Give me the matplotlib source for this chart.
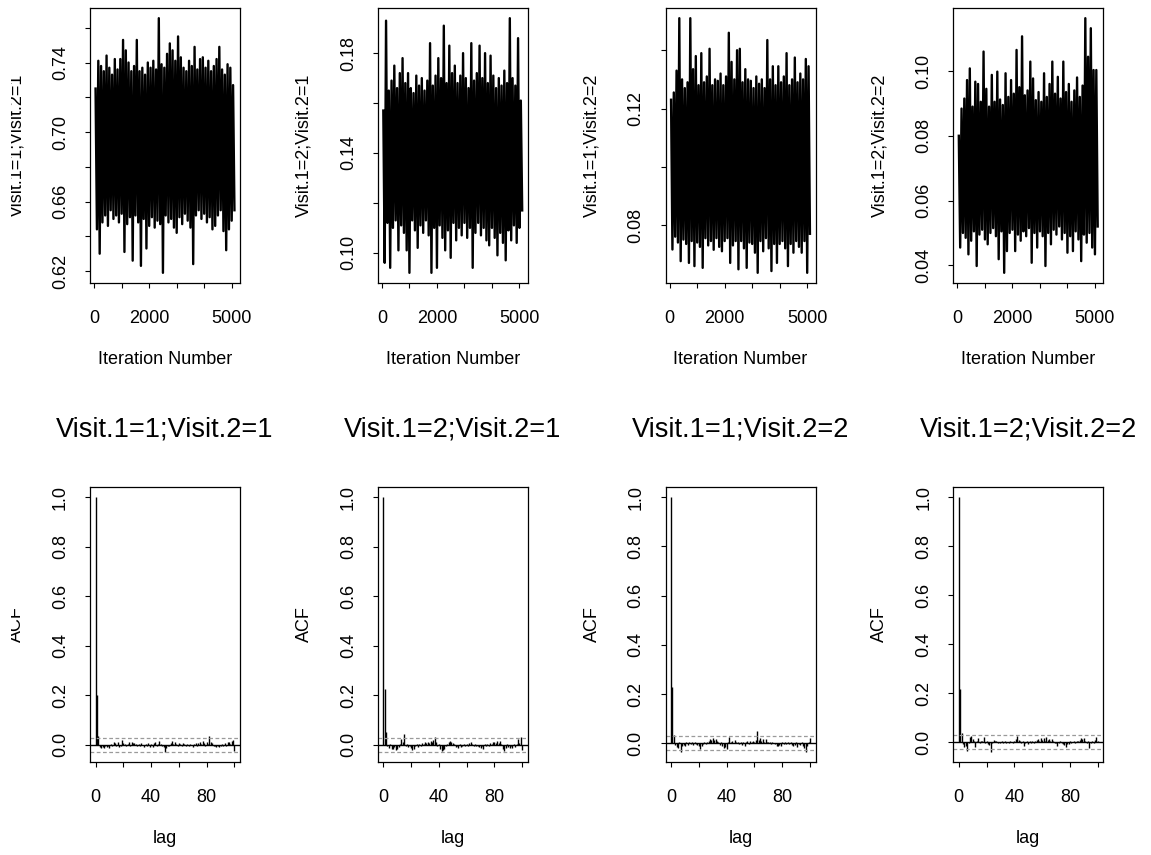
import matplotlib
matplotlib.use('Agg')
import matplotlib.pyplot as plt
from matplotlib.patches import Rectangle

plt.rcParams['font.family'] = ['Liberation Sans', 'DejaVu Sans']

# Parameter names (one column each)
names = ['Visit.1=1;Visit.2=1', 'Visit.1=2;Visit.2=1',
         'Visit.1=1;Visit.2=2', 'Visit.1=2;Visit.2=2']

# Trace plots: highest / lowest draw read in each 100-iteration window
iter_hi = list(range(50, 5051, 100))
iter_lo = list(range(100, 5101, 100))

hi_1 = [0.725, 0.741, 0.738, 0.735, 0.744, 0.737, 0.733, 0.742, 0.736, 0.742,
        0.753, 0.747, 0.740, 0.735, 0.738, 0.753, 0.735, 0.737, 0.733, 0.740,
        0.737, 0.741, 0.736, 0.7655, 0.739, 0.737, 0.745, 0.751, 0.747, 0.741,
        0.755, 0.743, 0.737, 0.735, 0.741, 0.738, 0.749, 0.736, 0.742, 0.743,
        0.737, 0.741, 0.735, 0.738, 0.742, 0.749, 0.736, 0.733, 0.739, 0.737,
        0.727]
lo_1 = [0.644, 0.630, 0.648, 0.652, 0.646, 0.655, 0.650, 0.652, 0.648, 0.653,
        0.631, 0.647, 0.651, 0.626, 0.652, 0.648, 0.623, 0.650, 0.633, 0.646,
        0.651, 0.645, 0.649, 0.647, 0.619, 0.652, 0.648, 0.650, 0.645, 0.642,
        0.651, 0.647, 0.653, 0.649, 0.645, 0.624, 0.652, 0.655, 0.650, 0.653,
        0.648, 0.651, 0.644, 0.646, 0.652, 0.655, 0.643, 0.632, 0.644, 0.649,
        0.655]

hi_2 = [0.157, 0.193, 0.165, 0.169, 0.175, 0.166, 0.172, 0.178, 0.168, 0.172,
        0.166, 0.164, 0.171, 0.167, 0.170, 0.165, 0.169, 0.184, 0.167, 0.171,
        0.178, 0.170, 0.191, 0.168, 0.183, 0.172, 0.175, 0.168, 0.171, 0.180,
        0.170, 0.166, 0.184, 0.169, 0.172, 0.183, 0.170, 0.180, 0.168, 0.179,
        0.171, 0.166, 0.170, 0.167, 0.173, 0.168, 0.194, 0.170, 0.167, 0.186,
        0.161]
lo_2 = [0.096, 0.112, 0.094, 0.110, 0.113, 0.101, 0.111, 0.108, 0.101, 0.092,
        0.113, 0.109, 0.102, 0.111, 0.108, 0.113, 0.107, 0.092, 0.110, 0.094,
        0.111, 0.106, 0.101, 0.109, 0.098, 0.112, 0.105, 0.110, 0.107, 0.112,
        0.106, 0.110, 0.094, 0.108, 0.112, 0.107, 0.110, 0.105, 0.103, 0.110,
        0.106, 0.099, 0.108, 0.104, 0.097, 0.109, 0.105, 0.111, 0.104, 0.110,
        0.117]

hi_3 = [0.123, 0.1255, 0.133, 0.151, 0.130, 0.127, 0.129, 0.151, 0.1335, 0.138,
        0.128, 0.139, 0.129, 0.131, 0.1405, 0.128, 0.130, 0.1295, 0.132, 0.128,
        0.131, 0.146, 0.136, 0.130, 0.140, 0.1405, 0.129, 0.1335, 0.130, 0.1295,
        0.127, 0.131, 0.1285, 0.130, 0.127, 0.1435, 0.130, 0.1345, 0.128, 0.1345,
        0.129, 0.131, 0.139, 0.128, 0.130, 0.1375, 0.129, 0.132, 0.130, 0.137,
        0.1345]
lo_3 = [0.0716, 0.076, 0.074, 0.0676, 0.075, 0.0735, 0.067, 0.0745, 0.0659, 0.074,
        0.0725, 0.0653, 0.0755, 0.073, 0.0745, 0.0715, 0.0755, 0.0725, 0.071, 0.0745,
        0.0755, 0.067, 0.073, 0.0745, 0.0648, 0.0745, 0.072, 0.0653, 0.074, 0.0735,
        0.0705, 0.0636, 0.0745, 0.071, 0.0755, 0.072, 0.0642, 0.0735, 0.067, 0.0735,
        0.0745, 0.072, 0.0659, 0.0735, 0.0705, 0.0745, 0.0725, 0.0705, 0.0745, 0.0636,
        0.077]

hi_4 = [0.080, 0.0884, 0.0915, 0.0972, 0.1008, 0.0890, 0.0967, 0.096, 0.0905, 0.106,
        0.0945, 0.0890, 0.0988, 0.0905, 0.0998, 0.0912, 0.0895, 0.0993, 0.0920, 0.0972,
        0.0930, 0.1065, 0.0950, 0.1107, 0.0925, 0.0940, 0.1029, 0.0977, 0.0910, 0.0935,
        0.0905, 0.0993, 0.0920, 0.0960, 0.1029, 0.0930, 0.0982, 0.0915, 0.1029, 0.0935,
        0.0960, 0.0905, 0.0940, 0.0980, 0.0920, 0.0955, 0.1163, 0.1044, 0.1132, 0.1003,
        0.1003]
lo_4 = [0.0455, 0.050, 0.0485, 0.0434, 0.0476, 0.0505, 0.0398, 0.0495, 0.0510, 0.048,
        0.0465, 0.0500, 0.0515, 0.0490, 0.0419, 0.0505, 0.0377, 0.0444, 0.0500, 0.0510,
        0.0444, 0.0495, 0.0476, 0.0505, 0.0490, 0.0515, 0.0408, 0.0500, 0.0455, 0.0505,
        0.0490, 0.0398, 0.0500, 0.0465, 0.0510, 0.0495, 0.0520, 0.0480, 0.0500, 0.0439,
        0.0490, 0.0444, 0.0505, 0.0480, 0.0413, 0.0495, 0.0470, 0.0500, 0.0455, 0.0434,
        0.0520]

trace_hi = [hi_1, hi_2, hi_3, hi_4]
trace_lo = [lo_1, lo_2, lo_3, lo_4]

trace_xticks = [0, 1000, 2000, 3000, 4000, 5000]
trace_xlabels = ['0', '', '2000', '', '', '5000']
trace_yticks = [[0.62, 0.64, 0.66, 0.68, 0.70, 0.72, 0.74, 0.76],
                [0.10, 0.12, 0.14, 0.16, 0.18],
                [0.08, 0.10, 0.12, 0.14],
                [0.04, 0.06, 0.08, 0.10]]
trace_ylabels = [['0.62', '', '0.66', '', '0.70', '', '0.74', ''],
                 ['0.10', '', '0.14', '', '0.18'],
                 ['0.08', '', '0.12', ''],
                 ['0.04', '0.06', '0.08', '0.10']]

# Autocorrelation, lags 0..100
lags = list(range(101))
acf_1 = [1.0,
         0.20, 0.035, -0.01, -0.012, -0.008, -0.012, -0.006, -0.01, -0.005, -0.013,
         0.005, -0.004, 0.012, 0.006, -0.006, 0.01, -0.008, -0.004, 0.018, 0.008,
         0.003, -0.006, 0.004, 0.012, -0.004, 0.01, 0.008, 0.007, 0.002, -0.005,
         0.003, -0.004, 0.006, -0.002, -0.008, 0.004, -0.006, 0.006, -0.01, 0.003,
         -0.008, 0.008, 0.012, -0.004, 0.005, 0.016, 0.003, -0.006, -0.01, -0.028,
         -0.012, -0.006, -0.004, 0.008, 0.014, 0.002, 0.012, 0.004, -0.004, 0.008,
         0.002, -0.006, 0.006, 0.004, -0.003, 0.002, -0.005, 0.004, -0.002, -0.008,
         0.004, 0.006, -0.003, 0.008, 0.012, 0.004, 0.016, 0.006, -0.004, 0.01,
         0.004, 0.035, 0.012, 0.006, -0.006, -0.004, -0.01, -0.006, -0.01, -0.003,
         0.004, -0.006, 0.006, -0.004, 0.01, 0.012, 0.004, 0.016, 0.018, -0.025]
acf_2 = [1.0,
         0.225, 0.05, -0.006, -0.012, 0.004, -0.015, -0.018, -0.01, -0.02, -0.016,
         -0.008, 0.004, 0.025, 0.012, 0.045, -0.006, 0.004, -0.01, -0.004, -0.012,
         -0.02, -0.018, -0.006, 0.004, -0.008, 0.003, -0.004, 0.006, 0.002, 0.01,
         0.008, 0.012, 0.006, 0.014, 0.01, 0.02, 0.032, 0.012, -0.004, 0.003,
         -0.018, -0.025, -0.022, -0.015, -0.006, 0.004, 0.012, 0.016, 0.01, 0.008,
         0.004, -0.01, -0.006, -0.014, 0.003, -0.008, -0.004, 0.002, -0.003, 0.004,
         -0.006, 0.006, 0.01, 0.004, -0.004, 0.002, -0.006, -0.003, -0.01, -0.012,
         -0.006, -0.015, 0.004, -0.006, 0.003, -0.004, 0.006, 0.002, 0.01, 0.012,
         0.006, 0.014, 0.008, 0.016, 0.004, -0.018, -0.025, -0.012, 0.003, -0.01,
         -0.014, -0.006, -0.012, 0.004, -0.008, 0.003, 0.025, 0.006, 0.032, -0.02]
acf_3 = [1.0,
         0.23, 0.034, -0.008, -0.014, -0.02, 0.004, -0.035, -0.012, -0.006, -0.01,
         0.004, -0.008, 0.006, -0.004, 0.003, -0.006, 0.004, -0.003, -0.008, -0.01,
         -0.025, -0.012, -0.004, 0.003, -0.002, 0.004, 0.008, 0.016, 0.012, 0.02,
         0.014, 0.018, 0.008, 0.004, -0.006, 0.003, -0.012, -0.02, -0.016, -0.022,
         0.004, 0.025, 0.006, 0.01, 0.002, 0.015, 0.006, 0.004, -0.003, 0.006,
         -0.008, 0.003, -0.012, 0.004, 0.008, -0.004, 0.01, 0.006, 0.01, 0.006,
         0.012, 0.05, 0.012, 0.02, 0.008, 0.016, 0.006, 0.018, 0.004, 0.003,
         0.005, -0.002, 0.004, 0.002, -0.004, -0.01, -0.012, -0.006, -0.01, 0.003,
         -0.004, 0.004, -0.002, 0.006, -0.004, 0.003, -0.006, -0.012, -0.008, 0.004,
         -0.015, -0.004, -0.008, 0.003, -0.01, -0.02, -0.035, -0.012, 0.006, 0.02]
acf_4 = [1.0,
         0.215, 0.035, -0.01, -0.022, -0.018, -0.035, -0.006, 0.02, 0.026, 0.012,
         0.004, -0.02, 0.003, 0.015, -0.004, 0.003, 0.006, 0.02, -0.006, 0.004,
         -0.008, -0.012, -0.04, -0.004, 0.008, 0.003, 0.006, -0.003, 0.002, -0.004,
         0.003, -0.006, 0.004, -0.003, 0.002, -0.005, 0.003, 0.002, -0.004, 0.004,
         0.012, 0.025, 0.008, 0.004, -0.006, 0.003, -0.015, -0.006, 0.003, -0.01,
         0.004, -0.004, 0.006, -0.003, 0.004, 0.008, 0.012, 0.004, 0.018, 0.01,
         0.016, 0.006, 0.02, 0.01, 0.014, 0.006, 0.012, 0.003, -0.004, -0.006,
         -0.015, -0.004, 0.003, -0.006, -0.01, -0.012, -0.02, -0.008, -0.01, 0.003,
         -0.004, 0.002, 0.004, -0.003, 0.004, 0.006, 0.01, 0.015, 0.012, 0.016,
         0.006, -0.004, 0.003, -0.025, -0.006, 0.004, -0.003, 0.008, 0.02, 0.004]
acfs = [acf_1, acf_2, acf_3, acf_4]
acf_ci = 0.028

acf_xticks = [0, 20, 40, 60, 80, 100]
acf_xlabels = ['0', '', '40', '', '80', '']
acf_yticks = [0.0, 0.2, 0.4, 0.6, 0.8, 1.0]
acf_ylabels = ['0.0', '0.2', '0.4', '0.6', '0.8', '1.0']

# Layout in pixels (figure is 1151 x 855)
W, H = 1151, 855
col_w = W / 4
box_w, box_h = 150, 275
top_row_top, bot_row_top = 8, 487


def style_axes(ax):
    for s in ax.spines.values():
        s.set_linewidth(0.9)
    ax.tick_params(direction='out', length=3.6, width=0.8, labelsize=13,
                   colors='black')
    ax.tick_params(axis='x', pad=16)
    ax.tick_params(axis='y', pad=11.5, labelrotation=90)
    for lab in ax.get_yticklabels():
        lab.set_va('center')


def axis_labels(ax, xlab, ylab):
    ax.text(-69 / box_w, 0.5, ylab, transform=ax.transAxes, rotation=90,
            rotation_mode='anchor', ha='center', va='baseline', fontsize=13)
    ax.text(0.5, -81 / box_h, xlab, transform=ax.transAxes,
            ha='center', va='baseline', fontsize=13)


fig = plt.figure(figsize=(W / 100, H / 100), dpi=100)

for k in range(4):
    left = (90 + col_w * k) / W

    # trace plot: zigzag through the read highs and lows
    ax = fig.add_axes([left, 1 - (top_row_top + box_h) / H, box_w / W, box_h / H])
    xs, ys = [], []
    for a, b, c, d in zip(iter_hi, trace_hi[k], iter_lo, trace_lo[k]):
        xs += [a, c]
        ys += [b, d]
    ax.plot(xs, ys, color='black', lw=1.7)
    ax.margins(x=0.04, y=0.04)
    ax.set_xticks(trace_xticks)
    ax.set_xticklabels(trace_xlabels)
    ax.set_yticks(trace_yticks[k])
    ax.set_yticklabels(trace_ylabels[k])
    style_axes(ax)
    axis_labels(ax, 'Iteration Number', names[k])

    # autocorrelation plot
    ax = fig.add_axes([left, 1 - (bot_row_top + box_h) / H, box_w / W, box_h / H])
    ax.vlines(lags, 0, acfs[k], color='black', lw=1.0)
    ax.axhline(0, color='black', lw=1.0)
    ax.axhline(acf_ci, color='#9a9a9a', lw=0.9, ls=(0, (3, 2)))
    ax.axhline(-acf_ci, color='#9a9a9a', lw=0.9, ls=(0, (3, 2)))
    lo = min(min(acfs[k]), -acf_ci)
    hi = max(max(acfs[k]), acf_ci)
    ax.set_ylim(lo - 0.04 * (hi - lo), hi + 0.04 * (hi - lo))
    ax.set_xlim(-4, 104)
    ax.set_xticks(acf_xticks)
    ax.set_xticklabels(acf_xlabels)
    ax.set_yticks(acf_yticks)
    ax.set_yticklabels(acf_ylabels)
    style_axes(ax)
    axis_labels(ax, 'lag', 'ACF')
    ax.set_title(names[k], fontsize=19.5, pad=36.7)

# the left edge of the original picture is cropped through the first labels
fig.patches.append(Rectangle((0, 0), 11 / W, 1, transform=fig.transFigure,
                             facecolor='white', edgecolor='none', zorder=10))

fig.savefig('out.png', dpi=100)
